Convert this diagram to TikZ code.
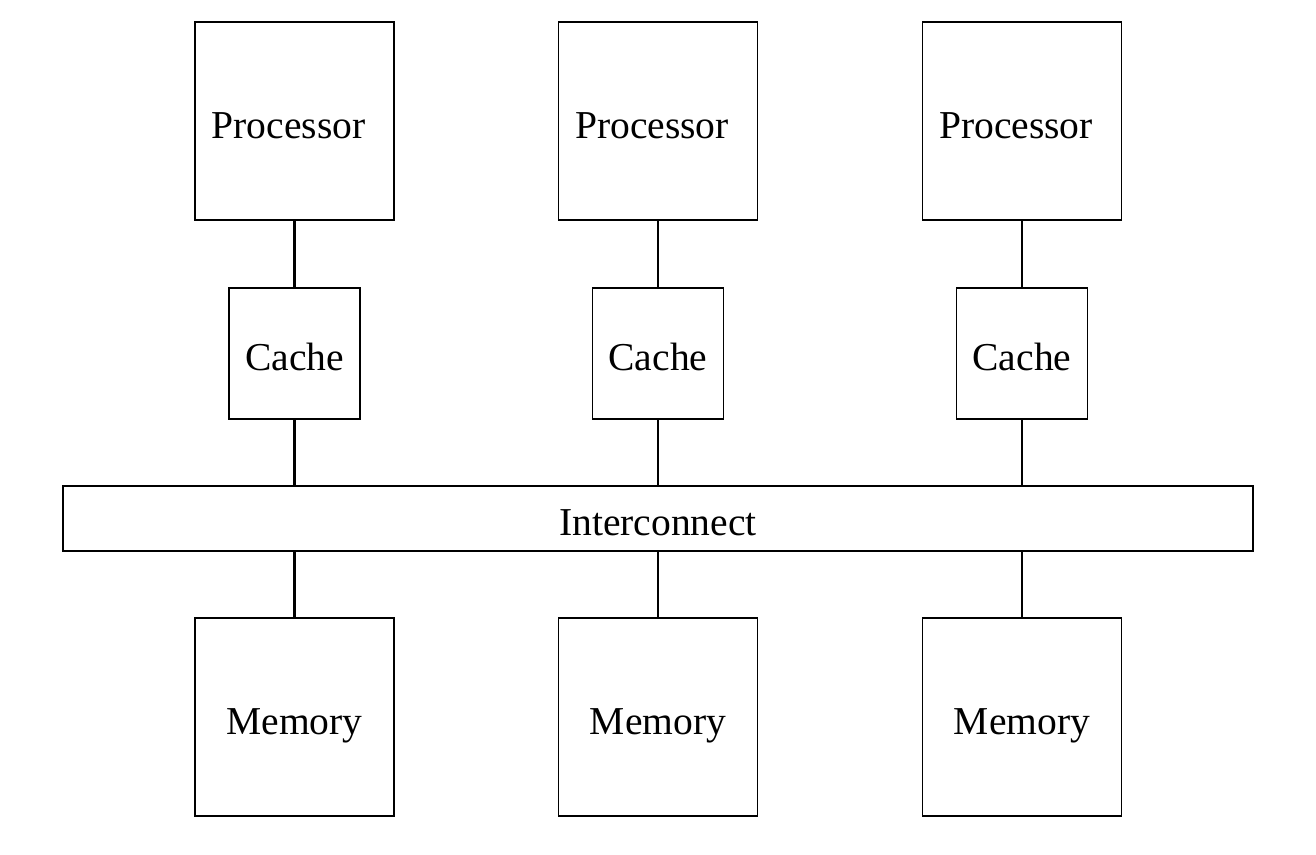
\documentclass[tikz,border=0pt]{standalone}
\usepackage{fontspec}
\setmainfont{Liberation Serif}
\usepackage{tikz}
\usetikzlibrary{positioning}

\begin{document}
\begin{tikzpicture}[>=stealth,
    unit/.style={draw=black, line width=0.6pt, inner sep=0pt, text height=19.4pt, text depth=0pt,
        font=\fontsize{22.5}{27}\selectfont},
    link/.style={line width=1.2pt}]
        \useasboundingbox (0,0) rectangle (26.32,17.08);
        % Interconnect bar
        \node[unit, minimum width=23.8cm, minimum height=1.3cm] (bus) at (13.16,6.71) {Interconnect};
        % One column per processor
        \foreach \i/\x in {1/5.89, 2/13.16, 3/20.44} {
            \node[unit, minimum width=3.98cm, minimum height=3.96cm] (proc\i) at (\x,14.66) {Processor\kern0.24cm};
            \node[unit, minimum width=2.62cm, minimum height=2.62cm] (cache\i) at (\x,10.01) {Cache};
            \node[unit, minimum width=3.98cm, minimum height=3.96cm] (mem\i) at (\x,2.74) {Memory};
            \draw[link] (proc\i.south) -- (cache\i.north);
            \draw[link] (cache\i.south) -- (cache\i.south |- bus.north);
            \draw[link] (mem\i.north) -- (mem\i.north |- bus.south);
        }
    \end{tikzpicture}
\end{document}
